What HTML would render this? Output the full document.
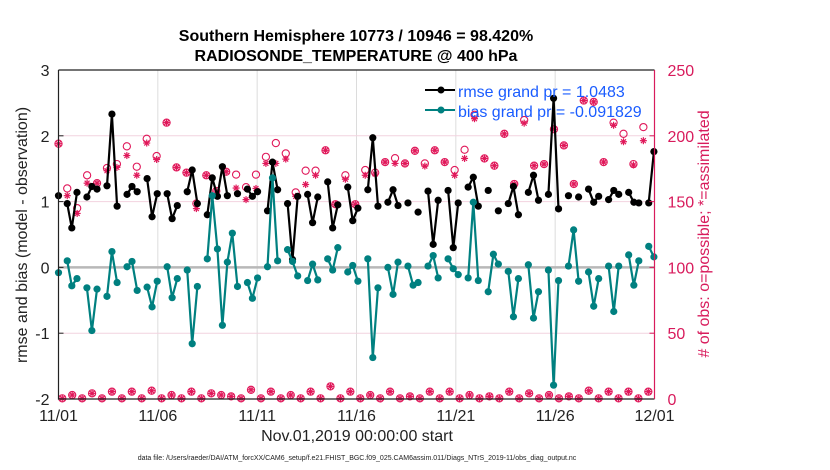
<!DOCTYPE html>
<html><head><meta charset="utf-8">
<style>
body{margin:0;background:#fff;}
svg{display:block;font-family:"Liberation Sans",sans-serif;}
</style></head>
<body>
<svg id="chart" width="830" height="470" viewBox="0 0 830 470" xmlns="http://www.w3.org/2000/svg">
<g id="grid"></g>
<g id="marks"></g>
<g id="axes"></g>
<text x="356" y="41" text-anchor="middle" font-size="16" font-weight="bold">Southern Hemisphere 10773 / 10946 = 98.420%</text>
<text x="356" y="61" text-anchor="middle" font-size="16" font-weight="bold">RADIOSONDE_TEMPERATURE @ 400 hPa</text>
<text x="357" y="441" text-anchor="middle" font-size="16" fill="#222">Nov.01,2019 00:00:00 start</text>
<text x="357" y="460" text-anchor="middle" font-size="7" fill="#222">data file: /Users/raeder/DAI/ATM_forcXX/CAM6_setup/f.e21.FHIST_BGC.f09_025.CAM6assim.011/Diags_NTrS_2019-11/obs_diag_output.nc</text>
<text transform="translate(27,235) rotate(-90)" text-anchor="middle" font-size="16" fill="#222">rmse and bias (model - observation)</text>
<text transform="translate(709,234) rotate(-90)" text-anchor="middle" font-size="16" fill="#d81b5c"># of obs: o=possible; *=assimilated</text>
<g>
<line x1="425" y1="90" x2="455" y2="90" stroke="#000" stroke-width="2"/>
<circle cx="441" cy="90" r="3.5" fill="#000"/>
<text x="458" y="97" font-size="16" fill="#1a5cff">rmse grand pr = 1.0483</text>
<line x1="425" y1="110" x2="455" y2="110" stroke="#008080" stroke-width="2"/>
<circle cx="441" cy="110" r="3.5" fill="#008080"/>
<text x="458" y="117" font-size="16" fill="#1a5cff">bias grand pr = -0.091829</text>
</g>
</svg>
<script>
const xTickDays=[0,5,10,15,20,25,30];
const xTickLabels=["11/01","11/06","11/11","11/16","11/21","11/26","12/01"];
const leftTicks=[3,2,1,0,-1,-2];
const rightTicks=[0,50,100,150,200,250];
const rmseT=[0,0.44,0.67,0.93,1.43,1.68,1.94,2.44,2.69,2.95,3.45,3.70,3.96,4.46,4.71,4.97,5.47,5.72,5.98,6.48,6.73,6.99,7.49,7.74,8.00,8.25,8.50,9.01,9.51,9.76,10.02,10.52,10.77,11.03,11.53,11.78,12.04,12.54,12.79,13.05,13.55,13.80,14.06,14.56,14.81,15.07,15.57,15.82,16.08,16.58,16.84,17.09,17.59,18.10,18.60,18.86,19.11,19.61,19.87,20.12,20.62,20.88,21.13,21.63,22.14,22.64,22.90,23.15,23.65,23.91,24.16,24.66,24.92,25.17,25.67,26.18,26.68,26.94,27.19,27.69,27.95,28.20,28.70,28.96,29.21,29.71,29.97];
const rmseV=[1.09,0.97,0.60,1.14,1.07,1.23,1.19,1.24,2.33,0.93,1.11,1.23,1.15,1.35,0.77,1.12,1.12,0.74,0.94,1.15,1.48,0.97,0.80,1.36,1.08,1.53,1.09,1.12,1.19,1.08,1.15,0.86,1.60,1.18,0.97,0.12,1.08,1.11,0.68,1.07,1.30,0.60,0.95,1.22,0.71,0.90,1.18,1.97,0.93,0.99,1.18,0.94,0.98,0.84,1.16,0.35,1.02,1.17,0.30,0.98,1.22,1.37,0.93,1.17,0.86,0.97,1.23,0.80,1.14,1.40,1.02,1.11,2.57,0.89,1.09,1.07,1.19,0.99,1.08,1.03,1.17,1.11,1.14,0.99,0.98,0.98,1.76];
const biasT=[0,0.44,0.67,0.93,1.43,1.68,1.94,2.44,2.69,2.95,3.45,3.70,3.96,4.46,4.71,4.97,5.47,5.72,5.98,6.48,6.73,6.99,7.49,7.74,8.00,8.25,8.50,8.75,9.01,9.51,9.76,10.02,10.52,10.77,11.03,11.53,11.78,12.04,12.54,12.79,13.05,13.55,13.80,14.06,14.56,14.81,15.07,15.57,15.82,16.08,16.58,16.84,17.09,17.59,17.85,18.10,18.60,18.86,19.11,19.61,19.87,20.12,20.62,20.88,21.13,21.63,21.89,22.14,22.64,22.90,23.15,23.65,23.91,24.16,24.66,24.92,25.17,25.67,25.93,26.18,26.68,26.94,27.19,27.69,27.95,28.20,28.70,28.96,29.21,29.71,29.97];
const biasV=[-0.08,0.10,-0.28,-0.17,-0.31,-0.96,-0.33,-0.44,0.24,-0.23,0.01,0.09,-0.35,-0.30,-0.60,-0.21,0.01,-0.46,-0.17,-0.04,-1.16,-0.29,0.13,1.09,0.28,-0.88,0.08,0.52,-0.29,-0.23,-0.47,-0.16,0.01,1.36,0.10,0.27,0.09,-0.13,-0.20,0.05,-0.19,0.13,-0.04,0.30,-0.07,0.03,-0.21,0.13,-1.37,-0.31,0.00,-0.41,0.08,0.02,-0.27,-0.23,0.02,0.18,-0.16,0.13,-0.02,-0.11,-0.16,0.99,-0.20,-0.37,0.20,0.05,-0.06,-0.75,-0.17,0.04,-0.77,-0.37,-0.04,-1.79,-0.20,0.02,0.57,-0.21,-0.07,-0.59,-0.17,0.02,-0.67,0.02,0.19,-0.27,0.10,0.32,0.16];
const possHigh=[194,160,145,170,164,175.5,178.5,192,176.5,197.7,184.6,210,176,172,148.5,170,158,172.7,170.5,161,170.5,184,194.5,186.6,157,173.5,173.5,189,148,170,148,174,172,180,183,179,188.6,179,189,180,174,189.4,216,182.8,177.3,201.5,163.4,212,177.3,178.5,205,192.7,163.4,226.8,225.8,180,210,201.5,178.5,206.6];
const assimHigh=[194,154.5,141,164,164,173.5,176,185,170,194.5,182,210,176,172,144.7,170,158,172.7,160.3,151.5,160,179,179,182.3,154,163,170,189,148,167,148,170,171,180,179,179,188.6,177,189,180,170,182.8,213,182.8,177.3,201.5,163.4,209.6,177.3,178.5,205,192.7,163.4,226.8,225.8,180,208,195.5,177.8,196.3];
const obsLow=[0.5,3,0.5,4.3,0.5,5.6,0.5,5.6,0.5,6.3,0.5,3,0.5,5.6,0.5,4.3,3,2,0.5,7,0.5,5.6,0.5,3,0.5,5.6,0.5,9.6,0.5,5.6,0.5,3,0.5,5.6,0.5,2,0.5,5.6,0.5,5.6,0.5,3,0.5,2,0.5,5.6,0.5,4.3,0.5,3,0.5,2,0.5,6.3,0.5,5.6,0.5,5.6,0.5,5.6];

const NS="http://www.w3.org/2000/svg";
const X0=58.5,X1=654.5,YT=70,YB=399;
const xS=d=>X0+(X1-X0)*d/30;
const yL=v=>YB-(YB-YT)*(v+2)/5;
const yR=c=>YB-(YB-YT)*c/250;
const PINK="#e0185a";
function mk(tag,attrs,parent){const e=document.createElementNS(NS,tag);for(const k in attrs)e.setAttribute(k,attrs[k]);parent.appendChild(e);return e;}
const grid=document.getElementById('grid'),marks=document.getElementById('marks'),axes=document.getElementById('axes');

xTickDays.forEach((d,i)=>{
  const l=mk('line',{x1:xS(d),x2:xS(d),y1:YT,y2:YB,stroke:'#dcdcdc','stroke-width':1},grid);
  
  
  const t=mk('text',{x:xS(d),y:YB+22,'text-anchor':'middle','font-size':16,fill:'#222'},axes);
  t.textContent=xTickLabels[i];
  
  
});
rightTicks.forEach(c=>{
  if(c>0&&c<250&&c!==100){
    const l=mk('line',{x1:X0,x2:X1,y1:yR(c),y2:yR(c),stroke:'#f2d3df','stroke-width':1},grid);
    
    
  }
  const t=mk('text',{x:X1+13,y:yR(c)+6,'font-size':16,fill:'#d81b5c'},axes);
  t.textContent=c;
  
  
  const tk=mk('line',{x1:X1-5,x2:X1,y1:yR(c),y2:yR(c),stroke:'#d81b5c'},axes);
  
  
});
const zl=mk('line',{x1:X0,x2:X1,y1:yL(0),y2:yL(0),stroke:'#b8b8b8','stroke-width':2.5},grid);


leftTicks.forEach(v=>{
  const t=mk('text',{x:X0-9,y:yL(v)+6,'text-anchor':'end','font-size':16,fill:'#222'},axes);
  t.textContent=v;
  
  
  const tk=mk('line',{x1:X0,x2:X0+5,y1:yL(v),y2:yL(v),stroke:'#222'},axes);
  
  
});
const ax1=mk('path',{d:`M${X0},${YT}H${X1}M${X0},${YT}V${YB}H${X1}`,stroke:'#222',fill:'none','stroke-width':1.2},axes);


const ax2=mk('line',{x1:X1,x2:X1,y1:YT,y2:YB,stroke:'#d81b5c','stroke-width':1.2},axes);



function star(cx,cy,name){
  const g=mk('g',{stroke:PINK,'stroke-width':1.2},marks);
  
  
  const r=3.5;
  mk('line',{x1:cx-r,x2:cx+r,y1:cy,y2:cy},g);
  mk('line',{x1:cx,x2:cx,y1:cy-r,y2:cy+r},g);
  mk('line',{x1:cx-r*0.7,x2:cx+r*0.7,y1:cy-r*0.7,y2:cy+r*0.7},g);
  mk('line',{x1:cx-r*0.7,x2:cx+r*0.7,y1:cy+r*0.7,y2:cy-r*0.7},g);
}
function circ(cx,cy,name){
  const c=mk('circle',{cx:cx,cy:cy,r:3.6,fill:'none',stroke:PINK,'stroke-width':1.1},marks);
  
  
}
possHigh.forEach((c,j)=>{
  const t=j===0?0:(2*j)*0.25-0.06;
  circ(xS(t),yR(c),'obs-possible-point');
  star(xS(t),yR(assimHigh[j]),'obs-assimilated-point');
});
obsLow.forEach((c,j)=>{
  const t=(2*j+1)*0.25-0.06;
  circ(xS(t),yR(c),'obs-possible-point');
  star(xS(t),yR(c),'obs-assimilated-point');
});

function series(T,V,color,name){
  let d='';
  T.forEach((t,i)=>{
    const gap=i===0||t-T[i-1]>0.35;
    d+=(gap?'M':'L')+xS(t).toFixed(1)+','+yL(V[i]).toFixed(1);
  });
  const p=mk('path',{d:d,fill:'none',stroke:color,'stroke-width':2.2,'stroke-linejoin':'round'},marks);
  
  
  T.forEach((t,i)=>{
    const c=mk('circle',{cx:xS(t),cy:yL(V[i]),r:3.6,fill:color},marks);
    
    
  });
}
series(rmseT,rmseV,'#000','rmse');
series(biasT,biasV,'#008080','bias');
</script>
</body></html>
